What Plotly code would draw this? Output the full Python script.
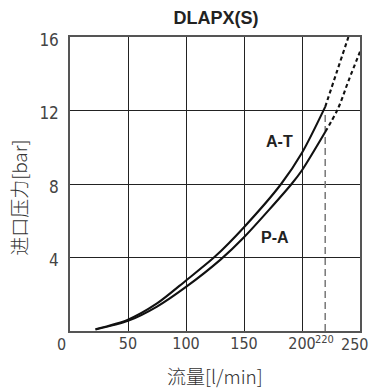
import plotly.graph_objects as go

# Data
flow_at = [22, 50, 75, 100, 125, 150, 182, 200, 220]
press_at = [0.1, 0.62, 1.5, 2.75, 4.05, 5.65, 8.0, 9.7, 12.2]
flow_at_ext = [220, 230, 240]
press_at_ext = [12.2, 14.1, 16.0]

flow_pa = [22, 50, 75, 100, 130, 150, 191, 200, 220]
press_pa = [0.08, 0.55, 1.33, 2.4, 3.9, 5.1, 8.0, 8.75, 10.83]
flow_pa_ext = [220, 231, 240, 250]
press_pa_ext = [10.83, 12.1, 13.6, 15.2]

max_flow = 220
max_flow_top = 11.8

x_ticks = [50, 100, 150, 200]
y_ticks = [4, 8, 12, 16]

FAM = "Liberation Sans Narrow, DejaVu Sans Condensed, sans-serif"
XTICK_FONT = dict(family=FAM, size=16, color="#444")
YTICK_FONT = dict(family=FAM, size=17, color="#444")
CJK = "Noto Sans CJK SC, Noto Sans CJK JP, sans-serif"

# plot area in pixels (for placing free text in paper coords)
L, R, T, B = 70, 362, 37, 331
def px(x):
    return (x - L) / (R - L)
def py(y):
    return (B - y) / (B - T)

fig = go.Figure()
fig.add_trace(go.Scatter(x=[max_flow, max_flow], y=[0, max_flow_top], mode="lines",
                         line=dict(color="#777", width=1.5, dash="7px,4px"), hoverinfo="skip"))
for fx, fy in [(flow_at, press_at), (flow_pa, press_pa)]:
    fig.add_trace(go.Scatter(x=fx, y=fy, mode="lines",
                             line=dict(color="#111", width=2.1, shape="spline", smoothing=0.8)))
for fx, fy in [(flow_at_ext, press_at_ext), (flow_pa_ext, press_pa_ext)]:
    fig.add_trace(go.Scatter(x=fx, y=fy, mode="lines",
                             line=dict(color="#111", width=2.1, shape="spline", dash="4px,3px")))

fig.update_layout(
    width=374, height=390,
    margin=dict(l=L, r=374 - R, t=T, b=390 - B),
    paper_bgcolor="white", plot_bgcolor="white",
    showlegend=False,
    title=dict(text="<b>DLAPX(S)</b>", x=(L + R) / 2 / 374, xanchor="center", y=1 - 18 / 390, yanchor="middle",
               font=dict(family="Liberation Sans, Arial, sans-serif", size=18, color="#222")),
    xaxis=dict(range=[0, 250], tickvals=x_ticks, ticktext=[str(v) for v in x_ticks],
               showgrid=True, gridcolor="#222", gridwidth=1, zeroline=False,
               showline=True, linecolor="#555", linewidth=1.5, mirror=True,
               ticks="", tickfont=XTICK_FONT, ticklabelstandoff=-3),
    yaxis=dict(range=[0, 16], tickvals=y_ticks, ticktext=[str(v) for v in y_ticks],
               showgrid=True, gridcolor="#222", gridwidth=1, zeroline=False,
               showline=True, linecolor="#555", linewidth=1.5, mirror=True,
               ticks="", tickfont=YTICK_FONT, ticklabelstandoff=6, ticklabelshift=3),
)

fig.add_annotation(x=px(61), y=py(344.5), xref="paper", yref="paper", text="0", showarrow=False,
                   font=XTICK_FONT, xanchor="center", yanchor="middle")
fig.add_annotation(x=px(341), y=py(344.5), xref="paper", yref="paper", text="250", showarrow=False,
                   font=XTICK_FONT, xanchor="left", yanchor="middle")
fig.add_annotation(x=px(326.5), y=py(339), xref="paper", yref="paper", text=str(max_flow), showarrow=False,
                   font=dict(family=FAM, size=11, color="#444"),
                   xanchor="center", yanchor="middle")
fig.add_annotation(x=180.6, y=10.3, xref="x", yref="y", text="<b>A-T</b>", showarrow=False,
                   font=dict(family="Liberation Sans, Arial, sans-serif", size=16, color="#222"))
fig.add_annotation(x=177, y=5.1, xref="x", yref="y", text="<b>P-A</b>", showarrow=False,
                   font=dict(family="Liberation Sans, Arial, sans-serif", size=16, color="#222"))
fig.add_annotation(x=px(17.5), y=py(198), xref="paper", yref="paper",
                   text="进口压力[bar]", textangle=-90, showarrow=False,
                   font=dict(family=CJK, size=19, color="#333", weight=300),
                   xanchor="center", yanchor="middle")
fig.add_annotation(x=px(216), y=py(375), xref="paper", yref="paper",
                   text="流量[l/min]", showarrow=False,
                   font=dict(family=CJK, size=19, color="#333", weight=300),
                   xanchor="center", yanchor="middle")

fig.write_html("out.html", config={"displayModeBar": False},
               post_script="document.body.style.margin='0';document.body.style.overflow='hidden';")
